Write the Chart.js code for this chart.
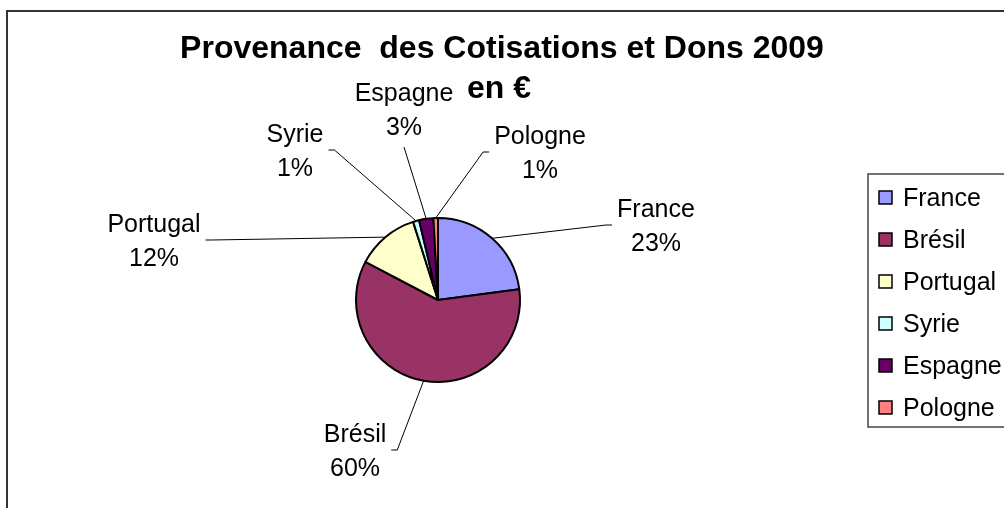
<!DOCTYPE html>
<html lang="fr">
<head>
<meta charset="UTF-8">
<title>Provenance des Cotisations et Dons 2009</title>
<script src="https://cdn.jsdelivr.net/npm/chart.js@4.4.0/dist/chart.umd.min.js"></script>
<style>
  body { margin: 0; background: #fff; }
  canvas { display: block; }
</style>
</head>
<body>
<canvas id="myChart" width="1004" height="508"></canvas>
<script>
    // donnees (parts en %)
    const pays = ['France', 'Brésil', 'Portugal', 'Syrie', 'Espagne', 'Pologne'];
    const parts = [22.9, 59.8, 12.4, 1.2, 2.8, 0.9];
    const couleurs = ['#9999FF', '#993366', '#FFFFCC', '#CCFFFF', '#660066', '#FF8080'];
    const titre = ['Provenance  des Cotisations et Dons 2009', 'en €'];

    // position des etiquettes par rapport au centre du camembert (deplacees a la main comme dans Excel)
    const decalEtiquettes = [[218, -75], [-83, 150], [-284, -60], [-143, -150], [-34, -191], [102, -148]];

    const police = '"Liberation Sans", Arial, sans-serif';

    const cadre = {
        id: 'cadre',
        beforeDraw(chart) {
            const c = chart.ctx;
            c.save();
            c.fillStyle = '#fff';
            c.fillRect(0, 0, chart.width, chart.height);
            c.strokeStyle = '#333';
            c.lineWidth = 2;
            c.strokeRect(7, 11, 1100, 600);
            c.restore();
        },
        afterDraw(chart) {
            const c = chart.ctx;
            c.save();
            // titre
            c.fillStyle = '#000';
            c.textAlign = 'center';
            c.textBaseline = 'alphabetic';
            c.font = 'bold 32px ' + police;
            c.fillText(titre[0], 502, 58);
            c.fillText(titre[1], 499, 98);

            // legende
            c.strokeStyle = '#444';
            c.lineWidth = 1.5;
            c.strokeRect(868, 174, 200, 253);
            c.font = '25px ' + police;
            c.textAlign = 'left';
            pays.forEach(function (p, i) {
                const y = 197 + 42 * i;
                c.fillStyle = couleurs[i];
                c.fillRect(879, y - 6, 13, 13);
                c.strokeStyle = '#000';
                c.lineWidth = 1.5;
                c.strokeRect(879, y - 6, 13, 13);
                c.fillStyle = '#000';
                c.fillText(p, 903, y + 9);
            });
            c.restore();
        }
    };

    const etiquettes = {
        id: 'etiquettes',
        afterDatasetsDraw(chart) {
            const c = chart.ctx;
            const arcs = chart.getDatasetMeta(0).data;
            const total = parts.reduce((a, b) => a + b, 0);
            c.save();
            c.font = '25px ' + police;
            c.textAlign = 'center';
            c.textBaseline = 'alphabetic';
            arcs.forEach(function (arc, i) {
                const mid = (arc.startAngle + arc.endAngle) / 2;
                const px = arc.x + Math.cos(mid) * arc.outerRadius;
                const py = arc.y + Math.sin(mid) * arc.outerRadius;
                const cx = arc.x + decalEtiquettes[i][0];
                const cy = arc.y + decalEtiquettes[i][1];
                const l1 = pays[i];
                const l2 = Math.round(parts[i] / total * 100) + '%';
                const demiL = Math.max(c.measureText(l1).width, c.measureText(l2).width) / 2 + 5;

                // trait de rappel
                c.strokeStyle = '#000';
                c.lineWidth = 1;
                c.beginPath();
                c.moveTo(px, py);
                if (Math.abs(px - cx) > demiL) {
                    const sens = px > cx ? 1 : -1;
                    const bx = cx + sens * demiL;
                    c.lineTo(bx + sens * 6, cy);
                    c.lineTo(bx, cy);
                } else {
                    c.lineTo(cx, cy + (py > cy ? 38 : -38));
                }
                c.stroke();

                c.fillStyle = '#000';
                c.fillText(l1, cx, cy - 8);
                c.fillText(l2, cx, cy + 26);
            });
            c.restore();
        }
    };

    const ctx = document.getElementById('myChart');

    const camembert = new Chart(ctx, {
        type: 'pie',
        data: {
            labels: pays,
            datasets: [{
                data: parts,
                backgroundColor: couleurs,
                borderColor: '#000',
                borderWidth: 2
            }]
        },
        options: {
            responsive: false,
            animation: false,
            layout: {
                padding: { left: 355, right: 483, top: 217, bottom: 125 }
            },
            plugins: {
                legend: { display: false },
                title: { display: false },
                tooltip: { enabled: false }
            }
        },
        plugins: [cadre, etiquettes]
    });
</script>
</body>
</html>
